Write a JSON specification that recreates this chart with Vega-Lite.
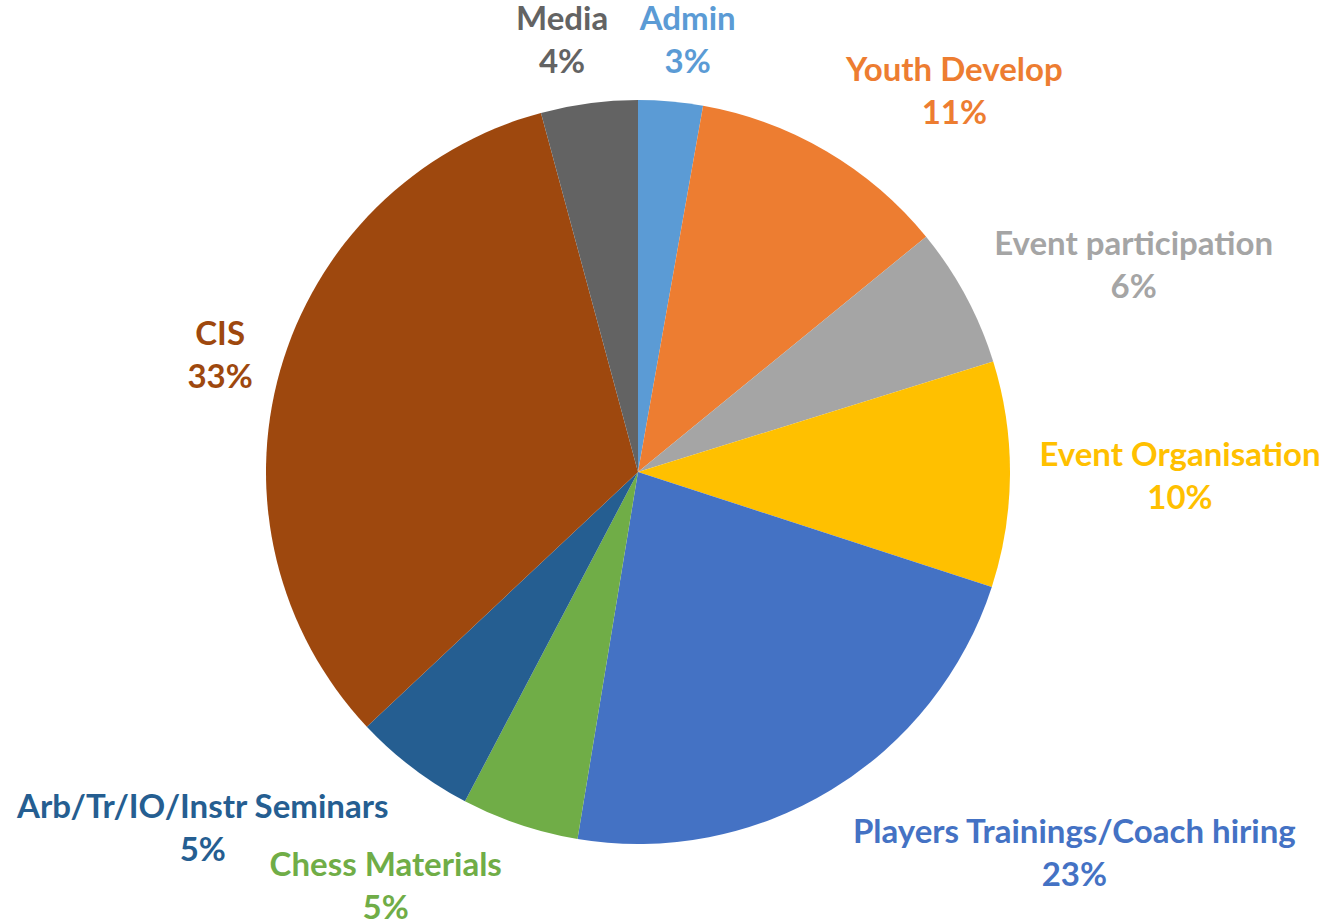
{
  "$schema": "https://vega.github.io/schema/vega-lite/v6.json",
  "width": 1276,
  "height": 944,
  "autosize": "none",
  "padding": {"left": 0, "top": 0, "right": 49, "bottom": 0},
  "background": "white",
  "config": {
    "view": {"stroke": null},
    "text": {"font": "Lato", "fontSize": 33, "fontWeight": "bold", "align": "center", "baseline": "middle", "lineHeight": 43, "lineBreak": "\n", "radius": 372}
  },
  "data": {"values": [
    {"category": "Admin", "value": 2.8, "pct": "3%"},
    {"category": "Youth Develop", "value": 11.3, "pct": "11%"},
    {"category": "Event participation", "value": 6.1, "pct": "6%"},
    {"category": "Event Organisation", "value": 9.8, "pct": "10%"},
    {"category": "Players Trainings/Coach hiring", "value": 22.6, "pct": "23%"},
    {"category": "Chess Materials", "value": 5.1, "pct": "5%"},
    {"category": "Arb/Tr/IO/Instr Seminars", "value": 5.3, "pct": "5%"},
    {"category": "CIS", "value": 32.8, "pct": "33%"},
    {"category": "Media", "value": 4.2, "pct": "4%"}
  ]},
  "transform": [
    {"window": [{"op": "row_number", "as": "rank"}]},
    {"stack": "value", "groupby": [], "sort": [{"field": "rank", "order": "ascending"}], "as": ["v0", "v1"]},
    {"calculate": "(datum.v0 + datum.v1) / 2", "as": "mid"},
    {"calculate": "datum.category + '\\n' + datum.pct", "as": "label"}
  ],
  "encoding": {
    "color": {
      "field": "category", "type": "nominal", "legend": null,
      "scale": {
        "domain": ["Admin", "Youth Develop", "Event participation", "Event Organisation", "Players Trainings/Coach hiring", "Chess Materials", "Arb/Tr/IO/Instr Seminars", "CIS", "Media"],
        "range": ["#5B9BD5", "#ED7D31", "#A5A5A5", "#FFC000", "#4472C4", "#70AD47", "#255E91", "#9E480E", "#636363"]
      }
    }
  },
  "layer": [
    {
      "mark": {"type": "arc", "radius": 372},
      "encoding": {
        "theta": {"field": "v0", "type": "quantitative", "stack": null, "scale": {"domain": [0, 100]}},
        "theta2": {"field": "v1"}
      }
    },
    {
      "transform": [{"filter": "datum.category === 'Admin'"}],
      "mark": {"type": "text", "dx": 17, "dy": -81},
      "encoding": {"theta": {"field": "mid", "type": "quantitative", "stack": null, "scale": {"domain": [0, 100]}}, "text": {"field": "label"}}
    },
    {
      "transform": [{"filter": "datum.category === 'Youth Develop'"}],
      "mark": {"type": "text", "dx": 128, "dy": -80},
      "encoding": {"theta": {"field": "mid", "type": "quantitative", "stack": null, "scale": {"domain": [0, 100]}}, "text": {"field": "label"}}
    },
    {
      "transform": [{"filter": "datum.category === 'Event participation'"}],
      "mark": {"type": "text", "dx": 168, "dy": -51},
      "encoding": {"theta": {"field": "mid", "type": "quantitative", "stack": null, "scale": {"domain": [0, 100]}}, "text": {"field": "label"}}
    },
    {
      "transform": [{"filter": "datum.category === 'Event Organisation'"}],
      "mark": {"type": "text", "dx": 170, "dy": -18},
      "encoding": {"theta": {"field": "mid", "type": "quantitative", "stack": null, "scale": {"domain": [0, 100]}}, "text": {"field": "label"}}
    },
    {
      "transform": [{"filter": "datum.category === 'Players Trainings/Coach hiring'"}],
      "mark": {"type": "text", "dx": 243, "dy": 43},
      "encoding": {"theta": {"field": "mid", "type": "quantitative", "stack": null, "scale": {"domain": [0, 100]}}, "text": {"field": "label"}}
    },
    {
      "transform": [{"filter": "datum.category === 'Chess Materials'"}],
      "mark": {"type": "text", "dx": -134, "dy": 41},
      "encoding": {"theta": {"field": "mid", "type": "quantitative", "stack": null, "scale": {"domain": [0, 100]}}, "text": {"field": "label"}}
    },
    {
      "transform": [{"filter": "datum.category === 'Arb/Tr/IO/Instr Seminars'"}],
      "mark": {"type": "text", "dx": -210, "dy": 40},
      "encoding": {"theta": {"field": "mid", "type": "quantitative", "stack": null, "scale": {"domain": [0, 100]}}, "text": {"field": "label"}}
    },
    {
      "transform": [{"filter": "datum.category === 'CIS'"}],
      "mark": {"type": "text", "dx": -60, "dy": -35},
      "encoding": {"theta": {"field": "mid", "type": "quantitative", "stack": null, "scale": {"domain": [0, 100]}}, "text": {"field": "label"}}
    },
    {
      "transform": [{"filter": "datum.category === 'Media'"}],
      "mark": {"type": "text", "dx": -27, "dy": -83},
      "encoding": {"theta": {"field": "mid", "type": "quantitative", "stack": null, "scale": {"domain": [0, 100]}}, "text": {"field": "label"}}
    }
  ]
}
